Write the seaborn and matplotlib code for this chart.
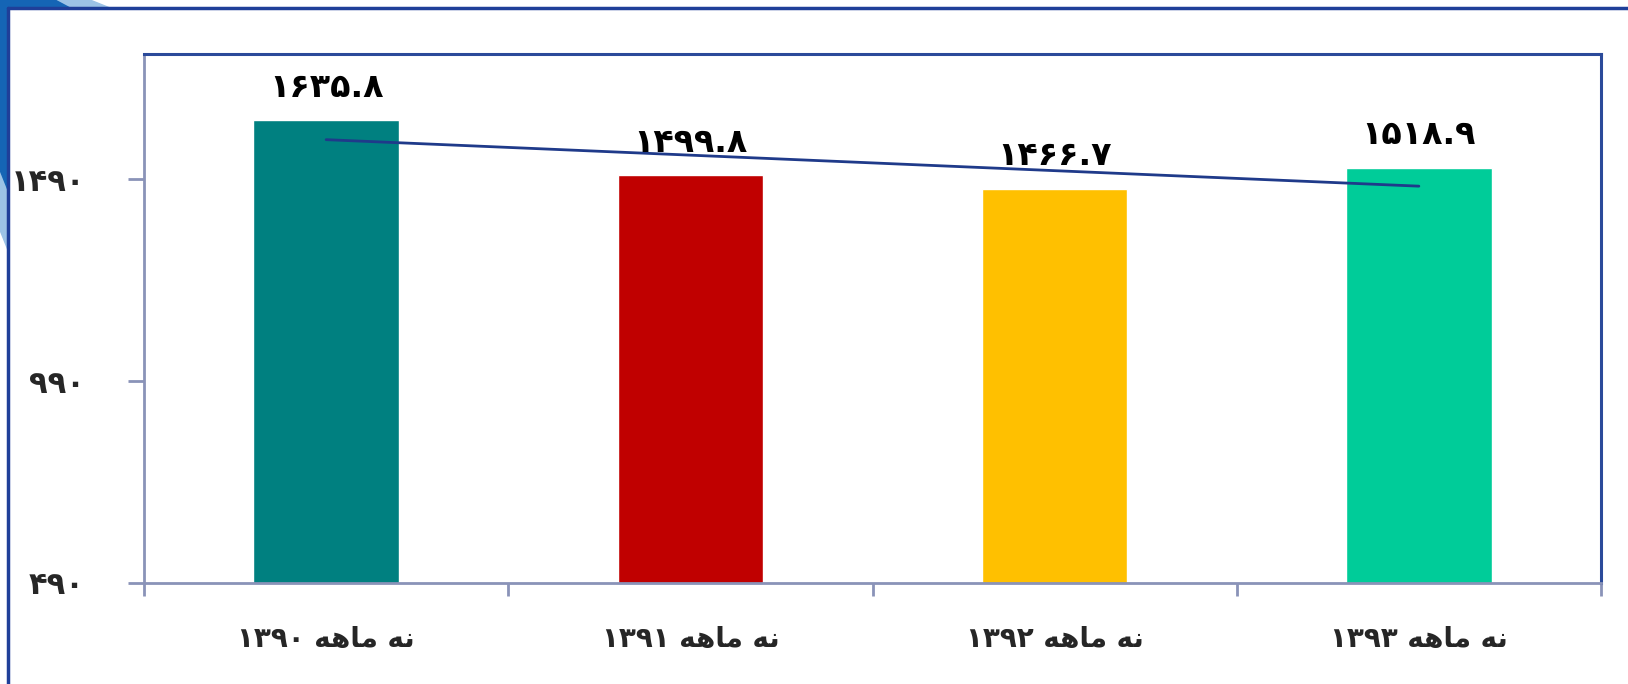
import matplotlib
matplotlib.use("Agg")
import matplotlib.pyplot as plt
from matplotlib.patches import Polygon
from matplotlib.lines import Line2D
import seaborn as sns
import pandas as pd
import numpy as np

# data
categories = ["نه ماهه ۱۳۹۰", "نه ماهه ۱۳۹۱", "نه ماهه ۱۳۹۲", "نه ماهه ۱۳۹۳"]
values = [1635.8, 1499.8, 1466.7, 1518.9]
bar_colors = ["#008080", "#C00000", "#FFC000", "#00CC99"]
y_ticks = [490, 990, 1490]

FA_DIGITS = str.maketrans("0123456789", "۰۱۲۳۴۵۶۷۸۹")

# tiny arabic shaper for the letters used in the labels (matplotlib does no shaping / bidi)
FORMS = {
    "ن": ("\uFEE5", "\uFEE6", "\uFEE7", "\uFEE8"),
    "ه": ("\uFEE9", "\uFEEA", "\uFEEB", "\uFEEC"),
    "م": ("\uFEE1", "\uFEE2", "\uFEE3", "\uFEE4"),
    "ا": ("\uFE8D", "\uFE8E", "\uFE8D", "\uFE8E"),
}
NO_LEFT = {"ا"}


def shape_word(w):
    out = []
    for i, ch in enumerate(w):
        if ch not in FORMS:
            out.append(ch)
            continue
        prev = i > 0 and w[i - 1] in FORMS and w[i - 1] not in NO_LEFT
        nxt = i < len(w) - 1 and ch not in NO_LEFT and w[i + 1] in FORMS
        out.append(FORMS[ch][3 if prev and nxt else 1 if prev else 2 if nxt else 0])
    return "".join(out)


def visual(label):
    words = label.split(" ")
    parts = [w if w[0] in "۰۱۲۳۴۵۶۷۸۹" else shape_word(w)[::-1] for w in words]
    return " ".join(reversed(parts))


df = pd.DataFrame({"cat": categories, "val": values, "pos": np.arange(len(values))})

sns.set_theme(style="white")
plt.rcParams["font.family"] = ["DejaVu Sans"]
plt.rcParams["font.weight"] = "bold"

fig = plt.figure(figsize=(16.28, 6.84), dpi=100)
ax = fig.add_axes([144 / 1628, 1 - 583 / 684, (1601 - 144) / 1628, (583 - 54) / 684])

sns.barplot(data=df, x="cat", y="val", hue="cat", palette=bar_colors,
            width=0.4, legend=False, saturation=1, ax=ax)
sns.regplot(x=df["pos"], y=df["val"], scatter=False, ci=None, truncate=True,
            color="#1F3A8A", line_kws={"lw": 2}, ax=ax)

for cont, v in zip(ax.containers, values):
    ax.bar_label(cont, labels=[f"{v:.1f}".translate(FA_DIGITS)], padding=12,
                 fontsize=24, fontweight="bold", color="black")

ax.set_xlim(-0.5, 3.5)
ax.set_ylim(490, 1800)
ax.set_yticks(y_ticks)
ax.set_yticklabels([str(t).translate(FA_DIGITS) for t in y_ticks], fontsize=22, fontweight="bold")
ax.set_xticks(range(len(categories)))
ax.set_xticklabels([visual(c) for c in categories], fontsize=20, fontweight="bold")
ax.set_xticks(np.arange(-0.5, len(categories)), minor=True)
ax.tick_params(axis="x", which="major", bottom=True, length=0, pad=30)
ax.tick_params(axis="x", which="minor", bottom=True, length=9, width=2, color="#8A93B8", direction="out")
ax.tick_params(axis="y", left=True, length=11.5, width=2, color="#8A93B8", direction="out", pad=31)
ax.set_xlabel("")
ax.set_ylabel("")

for s in ["left", "bottom"]:
    ax.spines[s].set_color("#8A93B8")
    ax.spines[s].set_linewidth(2)
for s in ["top", "right"]:
    ax.spines[s].set_color("#2B4A9A")
    ax.spines[s].set_linewidth(2.2)

# decorative swoosh and outer frame
fig.patches.append(Polygon([[0, 1], [0, 1 - 230 / 684], [8 / 1628, 1 - 250 / 684],
                            [8 / 1628, 1 - 8 / 684], [110 / 1628, 1 - 8 / 684], [90 / 1628, 1]],
                           closed=True, transform=fig.transFigure, color="#9CC3E6", zorder=0))
fig.patches.append(Polygon([[0, 1], [0, 1 - 170 / 684], [8 / 1628, 1 - 190 / 684],
                            [8 / 1628, 1 - 8 / 684], [70 / 1628, 1 - 8 / 684], [55 / 1628, 1]],
                           closed=True, transform=fig.transFigure, color="#1565B5", zorder=0))
fig.lines.append(Line2D([8 / 1628, 8 / 1628], [0, 1 - 8 / 684], transform=fig.transFigure,
                        color="#1F3F99", lw=2.5))
fig.lines.append(Line2D([8 / 1628, 1], [1 - 8 / 684, 1 - 8 / 684], transform=fig.transFigure,
                        color="#1F3F99", lw=2.5))

plt.savefig("out.png", dpi=100)
plt.close()
